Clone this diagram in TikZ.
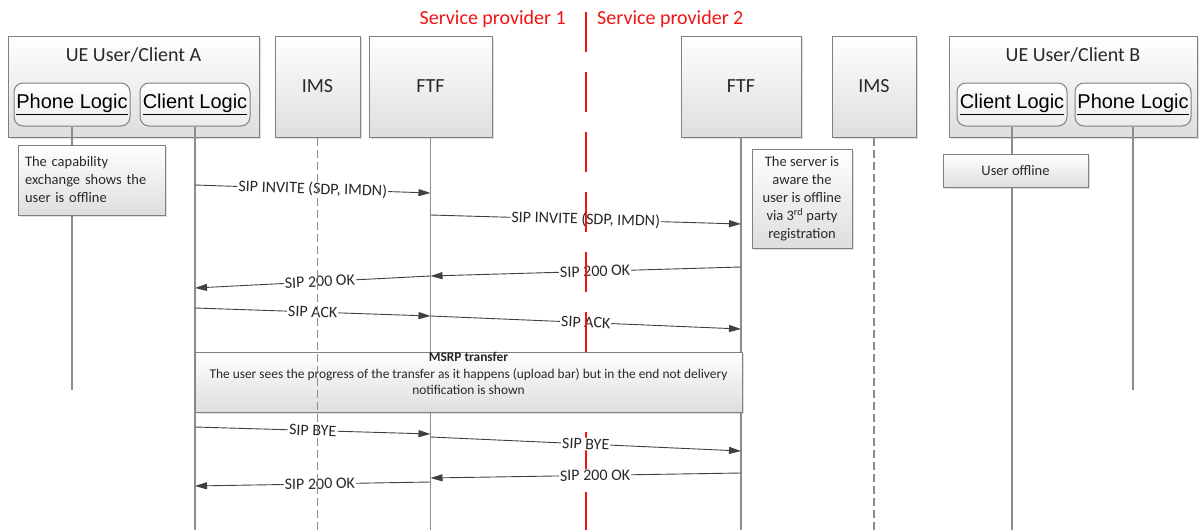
\documentclass[tikz,border=0pt]{standalone}
\usepackage{fontspec}
\setmainfont{Carlito}
\newfontfamily\arialfont{Liberation Sans}
\usetikzlibrary{arrows.meta,shadows}
\definecolor{boxborder}{RGB}{128,128,128}
\definecolor{lifegray}{RGB}{140,140,140}
\definecolor{msggray}{RGB}{64,64,64}
\definecolor{sepred}{RGB}{240,20,20}
\definecolor{shadegray}{RGB}{222,222,222}
\definecolor{txtgray}{RGB}{40,40,40}
\newcommand\myfs[2]{\fontsize{#1}{#2}\selectfont}
\tikzset{
  shadedbox/.style={draw=boxborder, line width=1pt, top color=white, bottom color=shadegray,
    drop shadow={shadow xshift=1.5pt, shadow yshift=-1.5pt, opacity=0.25}, inner sep=0pt},
  actorbox/.style={shadedbox, font=\myfs{20}{24}, text=txtgray},
  logicbox/.style={draw=boxborder, line width=1pt, rounded corners=9pt, top color=white,
    bottom color=shadegray!60, inner sep=0pt, font=\arialfont\myfs{20}{24}, text=black},
  notebox/.style={shadedbox, font=\myfs{14.5}{18}, text=txtgray},
  lifeline/.style={draw=lifegray, line width=1.5pt},
  imsline/.style={lifeline, dash pattern=on 8pt off 4pt},
  msg/.style={draw=msggray, line width=0.9pt, -{Triangle[length=12pt,width=7pt]}},
  msglabel/.style={fill=white, inner sep=1pt, sloped, font=\myfs{16}{19}, text=txtgray},
  sptext/.style={font=\myfs{20}{24}, text=sepred, inner sep=0pt},
}
\begin{document}
\begin{tikzpicture}[x=1pt,y=-1pt]
\useasboundingbox (0,0) rectangle (1200,530);

% --- participants ---
\node[actorbox, minimum width=251pt, minimum height=101pt] (ueA) at (133.5,86.5) {};
\node[font=\myfs{20}{24}, text=txtgray, inner sep=0pt] (ueAt) at (133.5,55) {UE User/Client A};
\node[logicbox, minimum width=116pt, minimum height=43pt] (plA) at (72,104.5) {\underline{Phone Logic}};
\node[logicbox, minimum width=110pt, minimum height=43pt] (clA) at (195,104.5) {\underline{Client Logic}};

\node[actorbox, minimum width=85pt, minimum height=101pt] (ims1) at (317.5,86.5) {IMS};
\node[actorbox, minimum width=123pt, minimum height=101pt] (ftf1) at (430.5,86.5) {FTF};
\node[actorbox, minimum width=120pt, minimum height=101pt] (ftf2) at (741,86.5) {FTF};
\node[actorbox, minimum width=84pt, minimum height=101pt] (ims2) at (874,86.5) {IMS};

\node[actorbox, minimum width=248pt, minimum height=101pt] (ueB) at (1073,86.5) {};
\node[font=\myfs{20}{24}, text=txtgray, inner sep=0pt] (ueBt) at (1073,55) {UE User/Client B};
\node[logicbox, minimum width=110pt, minimum height=43pt] (clB) at (1012,104.5) {\underline{Client Logic}};
\node[logicbox, minimum width=116pt, minimum height=43pt] (plB) at (1133,104.5) {\underline{Phone Logic}};

% --- solid lifelines ---
\draw[lifeline] (plA.south) -- (plA.south |- 0,390);
\draw[lifeline] (clA.south) -- (clA.south |- 0,530);
\draw[lifeline] (ftf1.south) -- (ftf1.south |- 0,530);
\draw[lifeline] (ftf2.south) -- (ftf2.south |- 0,530);
\draw[lifeline] (clB.south) -- (clB.south |- 0,530);
\draw[lifeline] (plB.south) -- (plB.south |- 0,390);

% --- notes ---
\node[notebox, minimum width=147pt, minimum height=70pt, text width=133pt, align=left] (noteA) at (91.5,180)
  {The capability\\exchange shows the\\user is offline};
\node[notebox, minimum width=100pt, minimum height=99pt, align=center] (noteS) at (802,198.5)
  {The server is\\aware the\\user is offline\\via 3\textsuperscript{rd} party\\registration};
\node[notebox, minimum width=145pt, minimum height=33pt] (noteB) at (1015.5,170.5) {User offline};

% --- messages (first part) ---
\draw[msg] (clA.south |- 0,185) -- node[msglabel] {SIP INVITE (SDP, IMDN)} (ftf1.south |- 0,193);
\draw[msg] (ftf1.south |- 0,215) -- node[msglabel] {SIP INVITE (SDP, IMDN)} (ftf2.south |- 0,224);
\draw[msg] (ftf2.south |- 0,267) -- node[msglabel, pos=0.47] {SIP 200 OK} (ftf1.south |- 0,276);
\draw[msg] (ftf1.south |- 0,276) -- node[msglabel, pos=0.47] {SIP 200 OK} (clA.south |- 0,288);
\draw[msg] (clA.south |- 0,308) -- node[msglabel] {SIP ACK} (ftf1.south |- 0,316);
\draw[msg] (ftf1.south |- 0,316) -- node[msglabel] {SIP ACK} (ftf2.south |- 0,329);

% --- provider separation ---
\coordinate (sepTop) at (586,12);
\coordinate (sepBot) at (586,530);
\draw[sepred, line width=2.7pt, dash pattern=on 40pt off 20pt] (sepTop) -- (sepBot);
\node[sptext, anchor=east] (sp1) at (566,19) {Service provider 1};
\node[sptext, anchor=west] (sp2) at (597,19) {Service provider 2};

% --- MSRP transfer ---
\node[shadedbox, minimum width=547pt, minimum height=60pt] (msrp) at (468.5,382) {};
\node[font=\myfs{13.4}{16.5}, text=txtgray, align=center, inner sep=0pt] (msrpt) at (468.5,373.5)
  {\textbf{MSRP transfer}\\The user sees the progress of the transfer as it happens (upload bar) but in the end not delivery\\notification is shown};

% --- messages (second part) ---
\draw[msg] (clA.south |- 0,427) -- node[msglabel] {SIP BYE} (ftf1.south |- 0,434);
\draw[msg] (ftf1.south |- 0,437) -- node[msglabel] {SIP BYE} (ftf2.south |- 0,451);
\draw[msg] (ftf2.south |- 0,473) -- node[msglabel, pos=0.47] {SIP 200 OK} (ftf1.south |- 0,478);
\draw[msg] (ftf1.south |- 0,482) -- node[msglabel, pos=0.47] {SIP 200 OK} (clA.south |- 0,486);

% --- IMS lifelines (dashed, on top) ---
\draw[imsline] (ims1.south) -- (ims1.south |- 0,530);
\draw[imsline] (ims2.south) -- (ims2.south |- 0,530);
\end{tikzpicture}
\end{document}
